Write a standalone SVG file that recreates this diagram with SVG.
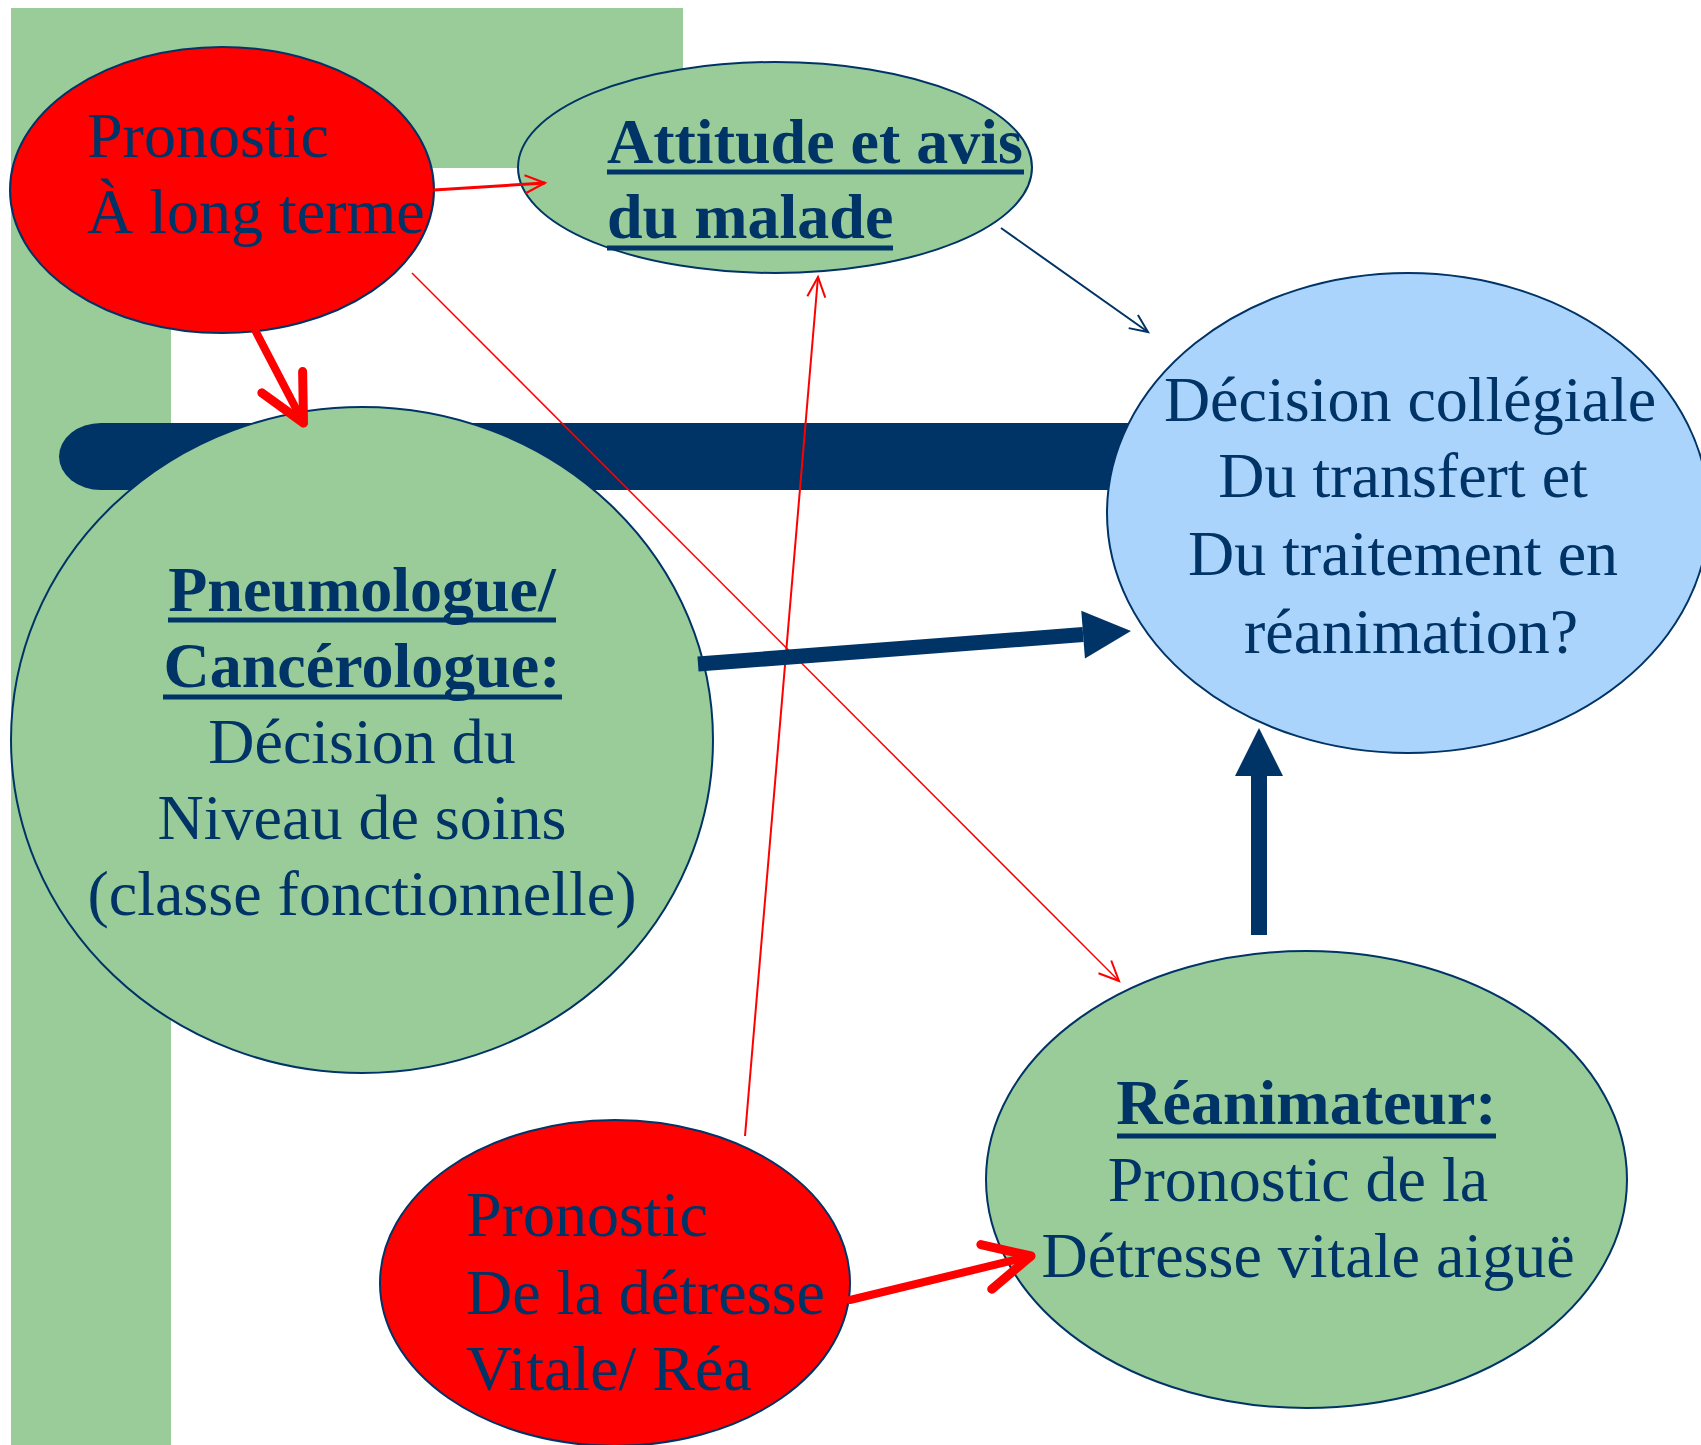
<svg xmlns="http://www.w3.org/2000/svg" width="1701" height="1445" viewBox="0 0 1701 1445">
<style>
.t{font-family:"Liberation Serif","Times New Roman",serif;font-size:64px;fill:#003366}
.b{font-weight:bold}
.m{text-anchor:middle}
.ul{stroke:#003366;stroke-width:5}
.node{stroke:#003366;stroke-width:2}
</style>
<defs>
<marker id="vRedThin" markerUnits="userSpaceOnUse" orient="auto" overflow="visible" markerWidth="1" markerHeight="1" refX="0" refY="0">
<path d="M-20,-9 L0,0 L-20,9" fill="none" stroke="#FF0000" stroke-width="2"/>
</marker>
<marker id="vNavyThin" markerUnits="userSpaceOnUse" orient="auto" overflow="visible" markerWidth="1" markerHeight="1" refX="0" refY="0">
<path d="M-18,-8 L0,0 L-18,8" fill="none" stroke="#003366" stroke-width="2"/>
</marker>
<marker id="vRedBig" markerUnits="userSpaceOnUse" orient="auto" overflow="visible" markerWidth="1" markerHeight="1" refX="0" refY="0">
<path d="M-46,-23 L0,0 L-46,23" fill="none" stroke="#FF0000" stroke-width="9" stroke-linecap="round" stroke-linejoin="round"/>
</marker>
<marker id="triNavy" markerUnits="userSpaceOnUse" orient="auto" overflow="visible" markerWidth="1" markerHeight="1" refX="0" refY="0">
<path d="M0,-24 L48,0 L0,24 Z" fill="#003366"/>
</marker>
</defs>
<rect width="1701" height="1445" fill="#FFFFFF"/>
<g id="background">
<path d="M11,8 H683 V168 H171 V1445 H11 Z" fill="#99CC99"/>
<path d="M101,423 L1200,423 L1200,490 L101,490 A42,33.5 0 0 1 101,423 Z" fill="#003366"/>
</g>
<g id="pronostic-long-terme">
<ellipse class="node" cx="222" cy="190" rx="212" ry="143" fill="#FF0000"/>
<text class="t" x="87" y="157">Pronostic</text>
<text class="t" x="87" y="233">À long terme</text>
</g>
<g id="attitude">
<ellipse class="node" cx="775" cy="167.5" rx="257" ry="105.5" fill="#99CC99"/>
<text class="t b" x="607" y="163">Attitude et avis</text>
<line class="ul" x1="607" y1="172" x2="1024" y2="172"/>
<text class="t b" x="607" y="238">du malade</text>
<line class="ul" x1="607" y1="248" x2="893" y2="248"/>
</g>
<g id="pneumologue">
<ellipse class="node" cx="362" cy="740" rx="351" ry="333" fill="#99CC99"/>
<text class="t b m" x="362" y="611">Pneumologue/</text>
<line class="ul" x1="168" y1="620" x2="556" y2="620"/>
<text class="t b m" x="362" y="687">Cancérologue:</text>
<line class="ul" x1="163" y1="697" x2="562" y2="697"/>
<text class="t m" x="362" y="763">Décision du</text>
<text class="t m" x="362" y="839">Niveau de soins</text>
<text class="t m" x="362" y="915">(classe fonctionnelle)</text>
</g>
<g id="decision">
<ellipse class="node" cx="1408" cy="513" rx="301" ry="240" fill="#AAD4FC"/>
<text class="t m" x="1410" y="421">Décision collégiale</text>
<text class="t m" x="1403" y="497">Du transfert et</text>
<text class="t m" x="1403" y="575">Du traitement en</text>
<text class="t m" x="1411" y="653">réanimation?</text>
</g>
<g id="reanimateur">
<ellipse class="node" cx="1306.5" cy="1179.5" rx="320.5" ry="228.5" fill="#99CC99"/>
<text class="t b m" x="1306.5" y="1124">Réanimateur:</text>
<line class="ul" x1="1117" y1="1136" x2="1496" y2="1136"/>
<text class="t m" x="1298" y="1201">Pronostic de la</text>
<text class="t m" x="1308" y="1277">Détresse vitale aiguë</text>
</g>
<g id="pronostic-detresse">
<ellipse class="node" cx="615" cy="1283" rx="235" ry="163" fill="#FF0000"/>
<text class="t" x="466" y="1236">Pronostic</text>
<text class="t" x="466" y="1314">De la détresse</text>
<text class="t" x="466" y="1390">Vitale/ Réa</text>
</g>
<g id="connectors" fill="none">
<line x1="434" y1="190" x2="545" y2="183" stroke="#FF0000" stroke-width="3" marker-end="url(#vRedThin)"/>
<line x1="412" y1="273" x2="1119" y2="981" stroke="#FF0000" stroke-width="1.5" marker-end="url(#vRedThin)"/>
<line x1="745" y1="1136" x2="818" y2="277" stroke="#FF0000" stroke-width="2" marker-end="url(#vRedThin)"/>
<line x1="1001" y1="228" x2="1148" y2="332" stroke="#003366" stroke-width="2" marker-end="url(#vNavyThin)"/>
<line x1="255" y1="330" x2="303.5" y2="423" stroke="#FF0000" stroke-width="8" stroke-linecap="round" marker-end="url(#vRedBig)"/>
<line x1="850" y1="1300" x2="1031" y2="1256" stroke="#FF0000" stroke-width="8" stroke-linecap="round" marker-end="url(#vRedBig)"/>
<line x1="698" y1="664" x2="1083.1" y2="634.6" stroke="#003366" stroke-width="15" marker-end="url(#triNavy)"/>
<line x1="1259" y1="935" x2="1259" y2="776" stroke="#003366" stroke-width="16" marker-end="url(#triNavy)"/>
</g>
</svg>
